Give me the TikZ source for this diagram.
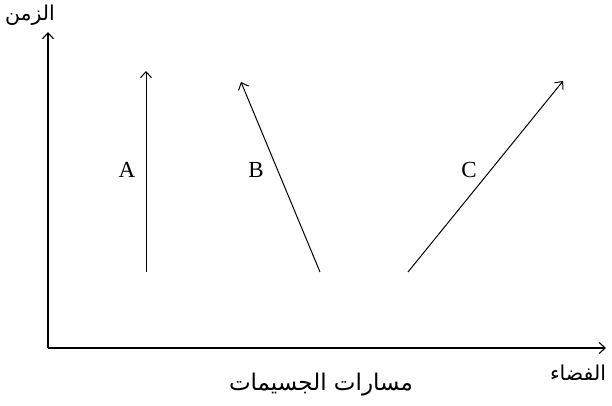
\documentclass[tikz,border=0pt]{standalone}
\usepackage{fontspec}
\setmainfont{Liberation Serif}
\newfontfamily\arabicfont[Script=Arabic]{DejaVu Sans}
\TeXXeTstate=1
\usetikzlibrary{arrows.meta}

\begin{document}
\begin{tikzpicture}[x=1pt,y=-1pt,>={Straight Barb[length=6pt,width=11pt]},line join=round,
  axis/.style={->,line width=1.1pt},
  track/.style={->,line width=1pt},
  lab/.style={font=\fontsize{23}{26}\selectfont,inner sep=0pt},
  artext/.style={font=\fontsize{20.5}{24}\selectfont\arabicfont,inner sep=0pt}]
  \useasboundingbox (0,0) rectangle (612,406);
  % axes
  \coordinate (O) at (48,348);
  \coordinate (T) at (48,32);
  \coordinate (S) at (606,348);
  \draw[axis] (O) -- (T);
  \draw[axis] (O) -- (S);
  % particle tracks
  \coordinate (A0) at (146,272);
  \coordinate (A1) at (146,71);
  \coordinate (B0) at (320,272);
  \coordinate (B1) at (241,82);
  \coordinate (C0) at (408,272);
  \coordinate (C1) at (563,81);
  \draw[track] (A0) -- (A1);
  \draw[track] (B0) -- (B1);
  \draw[track] (C0) -- (C1);
  \node[lab] (labA) at (127,170) {A};
  \node[lab] (labB) at (256,170) {B};
  \node[lab] (labC) at (469,170) {C};
  % axis labels
  \node[artext] (time) at (30,15) {\beginR الزمن\endR};
  \node[artext] (space) at (578,373) {\beginR الفضاء\endR};
  \node[artext,font=\fontsize{23}{26}\selectfont\arabicfont] (title) at (321,385) {\beginR مسارات الجسيمات\endR};
\end{tikzpicture}
\end{document}
